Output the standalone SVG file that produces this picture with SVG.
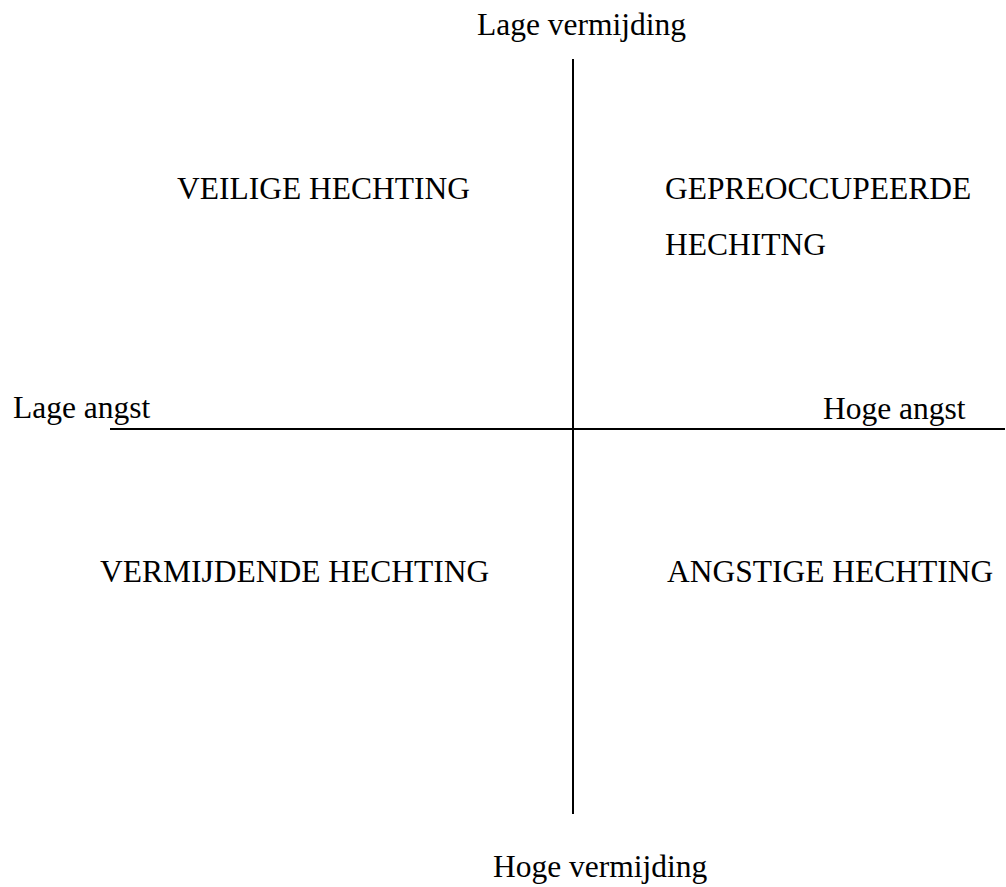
<svg xmlns="http://www.w3.org/2000/svg" width="1006" height="887" viewBox="0 0 1006 887">
<style>
text { font-family: "Liberation Serif", "Times New Roman", serif; font-size: 31.5px; fill: #000; }
.axis { stroke: #000; stroke-width: 2; fill: none; }
</style>
<rect width="1006" height="887" fill="#fff"/>
<g id="connectors">
<line class="axis" x1="573" y1="59" x2="573" y2="814"/>
<line class="axis" x1="110" y1="429" x2="1005" y2="429"/>
</g>
<g id="label-top"><text x="477" y="35">Lage vermijding</text></g>
<g id="label-bottom"><text x="493" y="877">Hoge vermijding</text></g>
<g id="label-left"><text x="13" y="418">Lage angst</text></g>
<g id="label-right"><text x="823" y="419">Hoge angst</text></g>
<g id="node-veilig"><text x="177" y="199">VEILIGE HECHTING</text></g>
<g id="node-gepreoccupeerd"><text x="665" y="199">GEPREOCCUPEERDE</text><text x="665" y="255">HECHITNG</text></g>
<g id="node-vermijdend"><text x="100" y="582">VERMIJDENDE HECHTING</text></g>
<g id="node-angstig"><text x="667" y="582">ANGSTIGE HECHTING</text></g>
</svg>
